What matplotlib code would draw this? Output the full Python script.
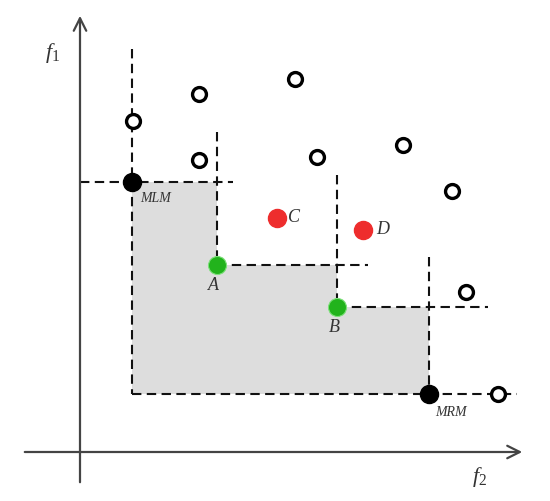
import matplotlib
matplotlib.use("Agg")
import matplotlib.pyplot as plt
from matplotlib.patches import Polygon

plt.rcParams['mathtext.fontset'] = 'custom'
plt.rcParams['mathtext.it'] = 'Liberation Serif:italic'
plt.rcParams['mathtext.rm'] = 'Liberation Serif'

# Dominated (open) solutions: f2, f1
open_f2 = [5.3, 11.9, 21.5, 11.9, 23.7, 32.3, 37.2, 38.6, 41.8]
open_f1 = [33.1, 35.8, 37.3, 29.2, 29.5, 30.7, 26.1, 16.0, 5.8]

# Extreme points
ext_names = ["MLM", "MRM"]
ext_f2 = [5.2, 34.9]
ext_f1 = [27.0, 5.8]

# Non-dominated points on the front
green_names = ["A", "B"]
green_f2 = [13.7, 25.7]
green_f1 = [18.7, 14.5]

# Red points
red_names = ["C", "D"]
red_f2 = [19.7, 28.3]
red_f1 = [23.4, 22.2]

fig = plt.figure(figsize=(5.5, 5.01), dpi=100)
ax = fig.add_axes([0, 0, 1, 1])
ax.set_xlim(-8, 47)
ax.set_ylim(-4.9, 45.2)
ax.axis('off')

# Staircase shaded region
front_f2 = [ext_f2[0]] + green_f2 + [ext_f2[1]]
front_f1 = [ext_f1[0]] + green_f1 + [ext_f1[1]]
verts = []
for i in range(len(front_f2)):
    verts.append((front_f2[i], front_f1[i]))
    if i + 1 < len(front_f2):
        verts.append((front_f2[i + 1], front_f1[i]))
verts.append((front_f2[-1], ext_f1[1]))
verts.append((front_f2[0], ext_f1[1]))
ax.add_patch(Polygon(verts, closed=True, facecolor='#dddddd', edgecolor='none', zorder=1))

dash = dict(color='#111111', lw=1.5, linestyle=(0, (4.5, 2.6)), zorder=2)
# vertical lines: top extents
v_top = [40.3, 32.0, 27.7, 19.5]
# horizontal lines: right extents
h_right = [15.3, 28.8, 40.8, 43.7]
# MLM
ax.plot([ext_f2[0], ext_f2[0]], [v_top[0], ext_f1[1]], **dash)
ax.plot([0, h_right[0]], [ext_f1[0], ext_f1[0]], **dash)
# A
ax.plot([green_f2[0], green_f2[0]], [v_top[1], green_f1[0]], **dash)
ax.plot([green_f2[0], h_right[1]], [green_f1[0], green_f1[0]], **dash)
# B
ax.plot([green_f2[1], green_f2[1]], [v_top[2], green_f1[1]], **dash)
ax.plot([green_f2[1], h_right[2]], [green_f1[1], green_f1[1]], **dash)
# MRM
ax.plot([ext_f2[1], ext_f2[1]], [v_top[3], ext_f1[1]], **dash)
ax.plot([ext_f2[0], h_right[3]], [ext_f1[1], ext_f1[1]], **dash)

# Axes arrows
axcol = '#444444'
ax.annotate('', xy=(0, 43.9), xytext=(0, -3.3),
            arrowprops=dict(arrowstyle='->,head_length=0.9,head_width=0.45', color=axcol, lw=1.6))
ax.annotate('', xy=(44.5, 0), xytext=(-5.8, 0),
            arrowprops=dict(arrowstyle='->,head_length=0.9,head_width=0.45', color=axcol, lw=1.6))

# Points
ax.plot(open_f2, open_f1, 'o', ms=10, mfc='white', mec='black', mew=2.4, zorder=4, linestyle='none')
ax.plot(ext_f2, ext_f1, 'o', ms=13, color='black', zorder=4, linestyle='none')
ax.plot(green_f2, green_f1, 'o', ms=13, color='#22b31c', mec='#7de07a', mew=0.8, zorder=4, linestyle='none')
ax.plot(red_f2, red_f1, 'o', ms=13, color='#ee2d2d', zorder=4, linestyle='none')

tcol = '#333333'
ital = dict(family='Liberation Serif', style='italic', color=tcol)
ax.text(ext_f2[0] + 0.8, ext_f1[0] - 1.0, ext_names[0], fontsize=10, ha='left', va='top', **ital)
ax.text(ext_f2[1] + 0.6, ext_f1[1] - 1.2, ext_names[1], fontsize=10, ha='left', va='top', **ital)
ax.text(green_f2[0] - 0.4, green_f1[0] - 1.2, green_names[0], fontsize=13, ha='center', va='top', **ital)
ax.text(green_f2[1] - 0.3, green_f1[1] - 1.2, green_names[1], fontsize=13, ha='center', va='top', **ital)
ax.text(red_f2[0] + 1.1, red_f1[0], red_names[0], fontsize=13, ha='left', va='center', **ital)
ax.text(red_f2[1] + 1.3, red_f1[1], red_names[1], fontsize=13, ha='left', va='center', **ital)

ax.text(-2.7, 39.9, r'$f_{1}$', fontsize=16, ha='center', va='center', color=tcol)
ax.text(40.0, -2.5, r'$f_{2}$', fontsize=16, ha='center', va='center', color=tcol)

fig.savefig('out.png', dpi=100)
